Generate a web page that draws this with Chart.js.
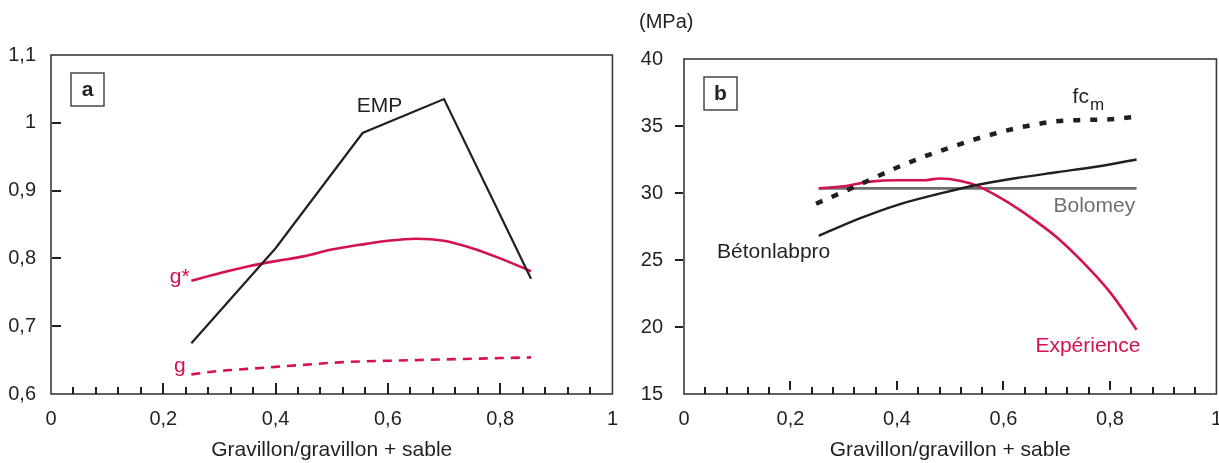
<!DOCTYPE html>
<html lang="fr">
<head>
<meta charset="UTF-8">
<title>Gravillon/gravillon + sable</title>
<script src="https://cdn.jsdelivr.net/npm/chart.js"></script>
<style>
    body { margin: 0; background: #fff; overflow: hidden; }
    .wrap { position: relative; width: 1219px; height: 463px; overflow: hidden; }
    #chartA { position: absolute; left: 0; top: 0; }
    #chartB { position: absolute; left: 620px; top: 0; }
</style>
</head>
<body>
<div class="wrap">
    <canvas id="chartA" width="631" height="463"></canvas>
    <canvas id="chartB" width="615" height="463"></canvas>
</div>
<script>
    // ---- panel a : compacité ----
    const empX   = [0.25, 0.40, 0.555, 0.70, 0.855];
    const empY   = [0.675, 0.815, 0.985, 1.035, 0.77];
    const gStarX = [0.25, 0.30, 0.35, 0.40, 0.45, 0.50, 0.55, 0.60, 0.65, 0.70, 0.75, 0.80, 0.855];
    const gStarY = [0.767, 0.778, 0.788, 0.796, 0.803, 0.813, 0.820, 0.826, 0.829, 0.826, 0.815, 0.800, 0.781];
    const gX     = [0.25, 0.30, 0.35, 0.40, 0.45, 0.50, 0.55, 0.60, 0.65, 0.70, 0.75, 0.80, 0.855];
    const gY     = [0.629, 0.634, 0.637, 0.640, 0.643, 0.646, 0.648, 0.649, 0.650, 0.651, 0.652, 0.653, 0.654];

    // ---- panel b : résistance (MPa) ----
    const bolomeyX = [0.253, 0.85];
    const bolomeyY = [30.35, 30.35];
    const expX   = [0.253, 0.30, 0.35, 0.40, 0.45, 0.48, 0.52, 0.55, 0.60, 0.65, 0.70, 0.75, 0.80, 0.85];
    const expY   = [30.35, 30.5, 30.85, 30.95, 30.95, 31.08, 30.9, 30.55, 29.5, 28.2, 26.7, 24.8, 22.6, 19.8];
    const betonX = [0.253, 0.33, 0.40, 0.48, 0.55, 0.63, 0.70, 0.78, 0.85];
    const betonY = [26.8, 28.1, 29.1, 29.95, 30.6, 31.15, 31.55, 32.0, 32.5];
    const fcmX   = [0.248, 0.30, 0.35, 0.40, 0.45, 0.50, 0.55, 0.60, 0.65, 0.70, 0.75, 0.80, 0.852];
    const fcmY   = [29.2, 30.1, 31.0, 31.9, 32.7, 33.4, 34.05, 34.6, 35.05, 35.35, 35.45, 35.5, 35.7];

    const RED = '#d3124f';
    const INK = '#231f20';
    const GREY = '#6e6e6e';
    const FONT = "'Liberation Sans', Arial, Helvetica, sans-serif";

    // text labels, anchored in data coordinates
    const notesA = [
        { text: 'EMP', x: 0.585, y: 1.016, color: INK, align: 'center' },
        { text: 'g*', x: 0.247, y: 0.764, color: RED, align: 'right' },
        { text: 'g', x: 0.240, y: 0.632, color: RED, align: 'right' }
    ];
    const notesB = [
        { text: 'Bolomey', x: 0.694, y: 28.57, color: GREY, align: 'left' },
        { text: 'Bétonlabpro', x: 0.062, y: 25.18, color: INK, align: 'left' },
        { text: 'Expérience', x: 0.660, y: 18.17, color: RED, align: 'left' }
    ];

    function pts(xs, ys) {
        return xs.map((x, i) => ({ x: x, y: ys[i] }));
    }

    function fmt(value) {
        return String(Number(value.toFixed(2))).replace('.', ',');
    }

    // frame, tick marks, panel letter and annotations
    function decor(cfg) {
        return {
            id: 'decor',
            afterDraw(chart) {
                const { ctx, chartArea: a, scales } = chart;
                ctx.save();
                ctx.strokeStyle = '#3a3a3a';
                ctx.lineWidth = 1.6;
                ctx.strokeRect(a.left, a.top, a.right - a.left, a.bottom - a.top);

                // x ticks: minor every 0.04, major every 0.2
                ctx.strokeStyle = INK;
                ctx.lineWidth = 2;
                for (let i = 1; i < 25; i++) {
                    const px = Math.round(scales.x.getPixelForValue(i * 0.04));
                    ctx.beginPath();
                    if (i % 5 === 0) {
                        ctx.moveTo(px, a.bottom - cfg.majorFrom);
                        ctx.lineTo(px, a.bottom - cfg.majorTo);
                    } else {
                        ctx.moveTo(px, a.bottom);
                        ctx.lineTo(px, a.bottom - 7);
                    }
                    ctx.stroke();
                }
                // y ticks
                cfg.yTicks.forEach(v => {
                    const py = Math.round(scales.y.getPixelForValue(v));
                    ctx.beginPath();
                    ctx.moveTo(a.left + cfg.yTickFrom, py);
                    ctx.lineTo(a.left + cfg.yTickTo, py);
                    ctx.stroke();
                });

                // panel letter box
                ctx.lineWidth = 1.4;
                ctx.strokeStyle = '#3a3a3a';
                const bx = a.left + 20, by = a.top + 18;
                ctx.strokeRect(bx, by, 33, 33);
                ctx.fillStyle = INK;
                ctx.font = 'bold 21px ' + FONT;
                ctx.textAlign = 'center';
                ctx.textBaseline = 'middle';
                ctx.fillText(cfg.letter, bx + 16.5, by + 17);

                // annotations
                ctx.textBaseline = 'alphabetic';
                ctx.font = '21px ' + FONT;
                cfg.notes.forEach(n => {
                    ctx.fillStyle = n.color;
                    ctx.textAlign = n.align;
                    ctx.fillText(n.text, scales.x.getPixelForValue(n.x), scales.y.getPixelForValue(n.y));
                });
                if (cfg.extra) cfg.extra(ctx, scales);
                ctx.restore();
            }
        };
    }

    function axes(yMin, yMax, yStep, yWidth, yPad) {
        return {
            x: {
                type: 'linear', min: 0, max: 1,
                grid: { display: false, drawTicks: false },
                border: { display: false },
                ticks: {
                    stepSize: 0.2, padding: 13, maxRotation: 0, autoSkip: false,
                    color: INK, font: { family: FONT, size: 20 }, callback: fmt
                },
                title: {
                    display: true, text: 'Gravillon/gravillon + sable', color: INK,
                    font: { family: FONT, size: 21 }, padding: { top: 0, bottom: 0 }
                },
                afterFit(s) { s.height = 69; }
            },
            y: {
                min: yMin, max: yMax,
                grid: { display: false, drawTicks: false },
                border: { display: false },
                ticks: {
                    stepSize: yStep, padding: yPad,
                    color: INK, font: { family: FONT, size: 20 }, callback: fmt
                },
                afterFit(s) { s.width = yWidth; }
            }
        };
    }

    new Chart(document.getElementById('chartA'), {
        type: 'line',
        data: {
            datasets: [
                { data: pts(empX, empY), borderColor: INK, borderWidth: 2.2, pointRadius: 0, tension: 0 },
                { data: pts(gStarX, gStarY), borderColor: RED, borderWidth: 2.6, pointRadius: 0, cubicInterpolationMode: 'monotone' },
                { data: pts(gX, gY), borderColor: RED, borderWidth: 2.6, borderDash: [9, 7], pointRadius: 0, cubicInterpolationMode: 'monotone' }
            ]
        },
        options: {
            responsive: false,
            animation: false,
            layout: { padding: { top: 55, right: 0, left: 0, bottom: 0 } },
            plugins: { legend: { display: false }, tooltip: { enabled: false } },
            scales: axes(0.6, 1.1, 0.1, 51, 15)
        },
        plugins: [decor({
            letter: 'a', majorFrom: 0, majorTo: 11,
            yTicks: [0.7, 0.8, 0.9, 1.0], yTickFrom: 1, yTickTo: 10,
            notes: notesA
        })]
    });

    new Chart(document.getElementById('chartB'), {
        type: 'line',
        data: {
            datasets: [
                { data: pts(fcmX, fcmY), borderColor: INK, borderWidth: 4.5, borderDash: [7, 10], pointRadius: 0, cubicInterpolationMode: 'monotone' },
                { data: pts(betonX, betonY), borderColor: INK, borderWidth: 2.4, pointRadius: 0, cubicInterpolationMode: 'monotone' },
                { data: pts(expX, expY), borderColor: RED, borderWidth: 2.6, pointRadius: 0, cubicInterpolationMode: 'monotone' },
                { data: pts(bolomeyX, bolomeyY), borderColor: GREY, borderWidth: 2.8, pointRadius: 0 }
            ]
        },
        options: {
            responsive: false,
            animation: false,
            layout: { padding: { top: 59, right: 0, left: 0, bottom: 0 } },
            plugins: { legend: { display: false }, tooltip: { enabled: false } },
            scales: axes(15, 40, 5, 64, 21)
        },
        plugins: [decor({
            letter: 'b', majorFrom: 4, majorTo: 13,
            yTicks: [20, 25, 30, 35], yTickFrom: -9, yTickTo: -1,
            notes: notesB,
            extra(ctx, scales) {
                ctx.fillStyle = INK;
                ctx.textAlign = 'left';
                ctx.font = '21px ' + FONT;
                const fx = scales.x.getPixelForValue(0.7298);
                const fy = scales.y.getPixelForValue(36.68);
                ctx.fillText('fc', fx, fy);
                const w = ctx.measureText('fc').width;
                ctx.font = '17px ' + FONT;
                ctx.fillText('m', fx + w + 1, fy + 7);
                ctx.font = '20px ' + FONT;
                ctx.fillText('(MPa)', 19, 28);
            }
        })]
    });
</script>
</body>
</html>
